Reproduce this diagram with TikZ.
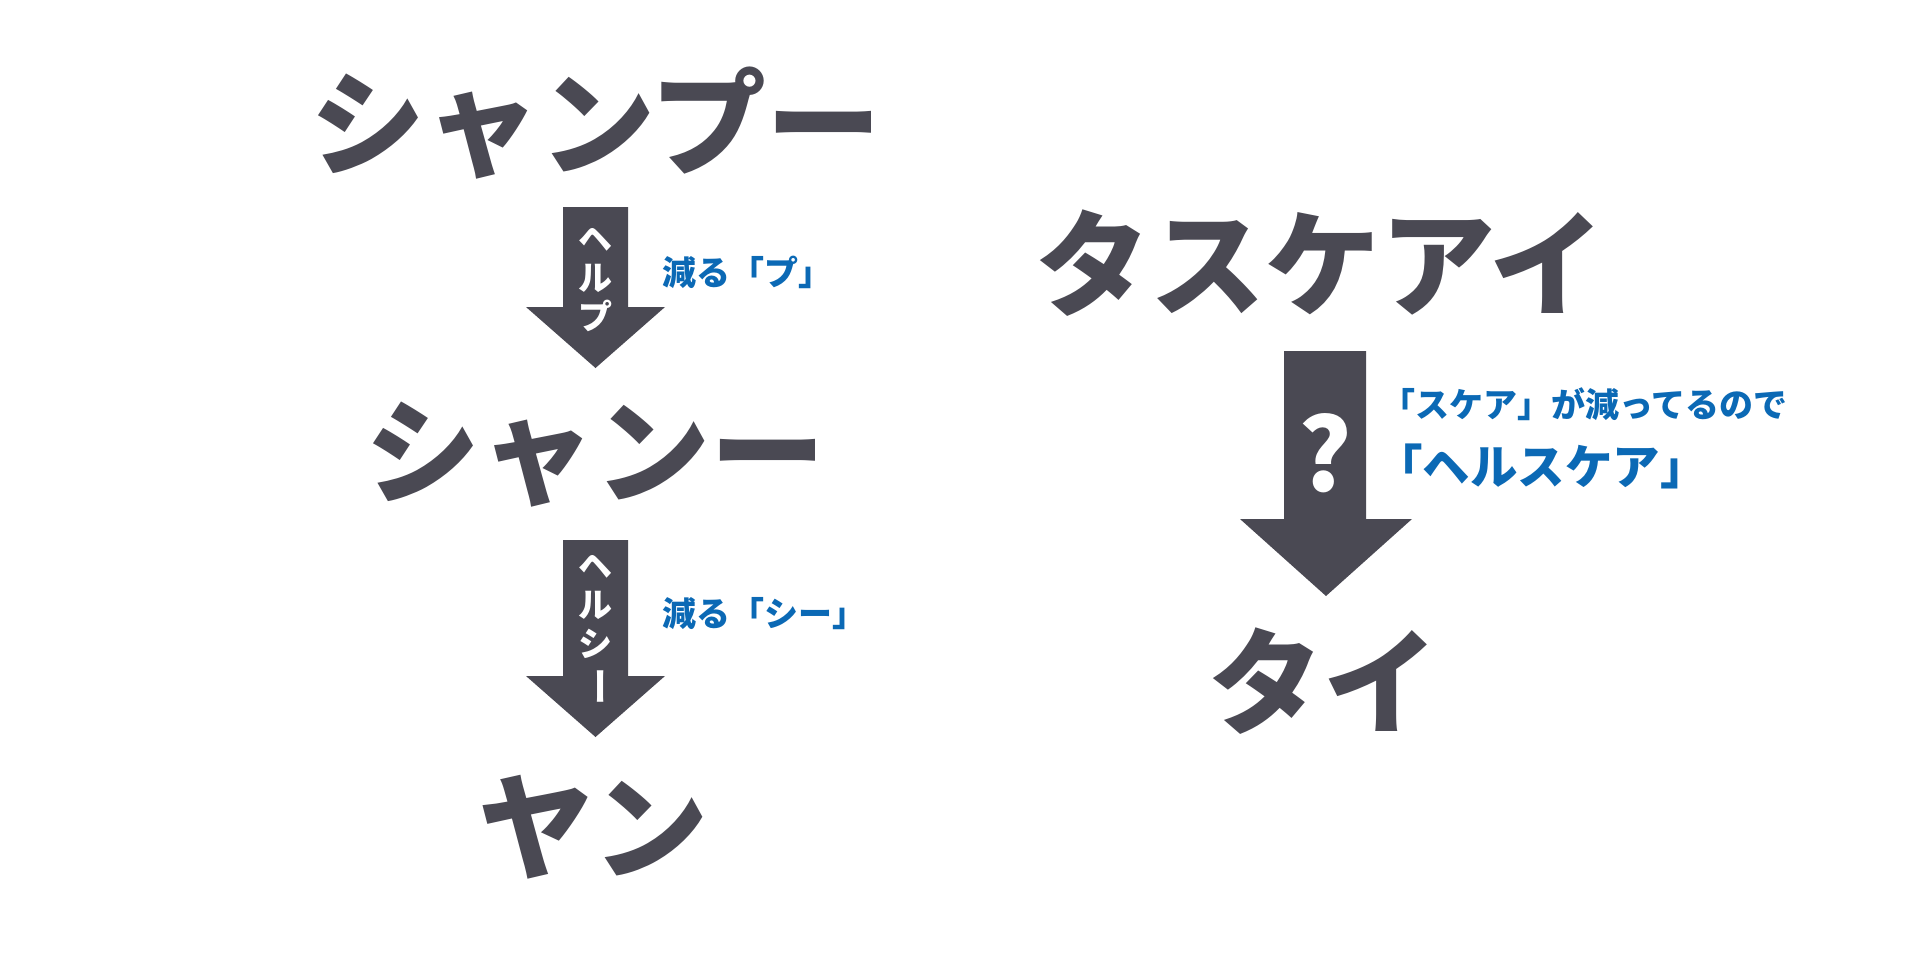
\documentclass[tikz,border=0pt]{standalone}
\usepackage{fontspec}
\newfontfamily\jp{Noto Sans CJK JP}
\definecolor{ink}{HTML}{4A4953}
\definecolor{blueink}{HTML}{0B69B5}
\tikzset{
  bigtxt/.style={inner sep=0pt, text=ink, font={\jp\bfseries\fontsize{115}{120}\selectfont}},
  bluetxt/.style={inner sep=0pt, anchor=west, text=blueink, font={\jp\bfseries\fontsize{34}{40}\selectfont}},
  bluebig/.style={inner sep=0pt, anchor=west, text=blueink, font={\jp\bfseries\fontsize{47.5}{56}\selectfont}},
  vtxt/.style={inner sep=0pt, align=center, text=white, font={\jp\bfseries\fontsize{34}{39}\selectfont}},
  qtxt/.style={inner sep=0pt, text=white, font={\jp\bfseries\fontsize{100}{110}\selectfont}},
  blockarrow/.style={fill=ink, draw=none},
}
\begin{document}
\begin{tikzpicture}[x=1pt,y=-1pt]
\useasboundingbox (0,0) rectangle (1920,956);
\fill[white] (0,0) rectangle (1920,956);

% block arrows
\fill[blockarrow] (563,207) -- (628,207) -- (628,307) -- (665,307) -- (595.5,368)
  -- (526,307) -- (563,307) -- cycle;
\fill[blockarrow] (563,540) -- (628,540) -- (628,676) -- (665,676) -- (595.5,737)
  -- (526,676) -- (563,676) -- cycle;
\fill[blockarrow] (1284,351) -- (1366,351) -- (1366,519) -- (1412,519) -- (1326,596)
  -- (1240,519) -- (1284,519) -- cycle;

% words
\node[bigtxt] (w1) at (596,123) {シャンプー};
\node[bigtxt] (w2) at (595,455) {シャンー};
\node[bigtxt] (w3) at (593,827) {ヤン};
\node[bigtxt] (w4) at (1320,263) {タスケアイ};
\node[bigtxt] (w5) at (1323,681) {タイ};

% text inside arrows
\node[vtxt] (v1) at (595.5,280) {ヘ\\ル\\プ};
\node[vtxt] (v2) at (595.5,630) {ヘ\\ル\\シ\\\rotatebox[origin=c]{-90}{\scalebox{1.12}[1]{ー}}};
\node[qtxt] (q) at (1325,453) {?};

% blue notes
\node[bluetxt] (n1) at (662,272) {減る「プ」};
\node[bluetxt] (n2) at (662,614) {減る「シー」};
\node[bluetxt] (n3) at (1381,404) {「スケア」が減ってるので};
\node[bluebig] (n4) at (1375,466) {「ヘルスケア」};
\end{tikzpicture}
\end{document}
